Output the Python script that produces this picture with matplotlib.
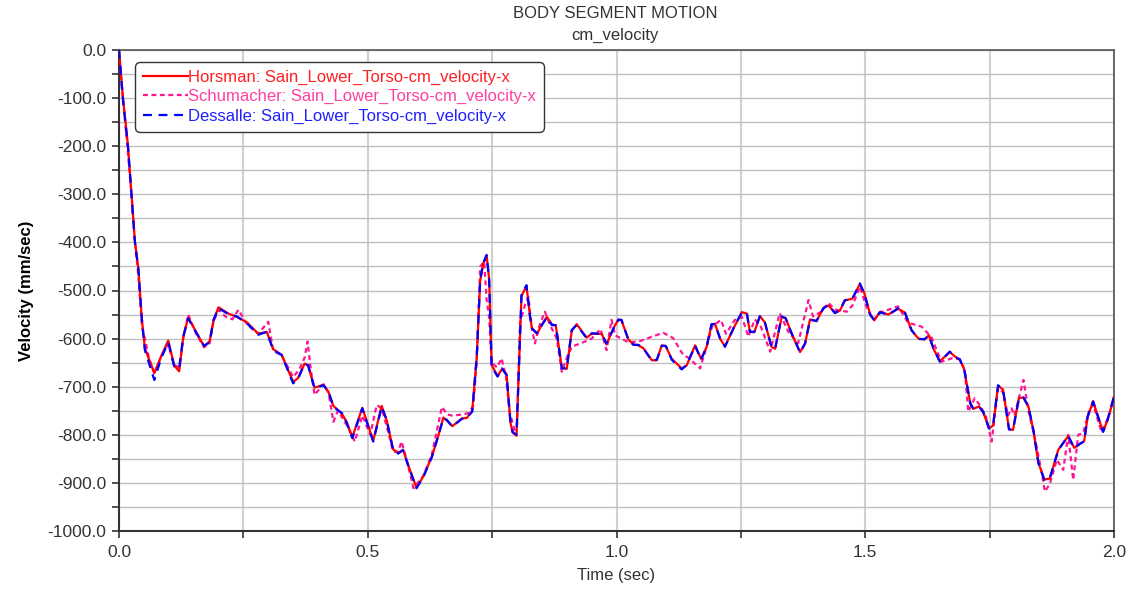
import matplotlib
matplotlib.use("Agg")
from matplotlib import pyplot as plt
from matplotlib.ticker import MultipleLocator, FuncFormatter

plt.rcParams['font.family'] = ['Liberation Sans', 'DejaVu Sans']

# time base shared by the Horsman / Dessalle traces (sec)
t_main = [0.0, 0.008, 0.018, 0.025, 0.032, 0.039, 0.046, 0.052, 0.071, 0.085,
          0.099, 0.111, 0.121, 0.129, 0.139, 0.156, 0.171, 0.182, 0.190, 0.200,
          0.220, 0.237, 0.257, 0.280, 0.297, 0.310, 0.327, 0.350, 0.360, 0.373,
          0.380, 0.393, 0.411, 0.421, 0.431, 0.448, 0.458, 0.469, 0.489, 0.511,
          0.528, 0.538, 0.551, 0.561, 0.571, 0.582, 0.598, 0.612, 0.629, 0.641,
          0.652, 0.659, 0.670, 0.689, 0.699, 0.710, 0.719, 0.726, 0.732, 0.739,
          0.744, 0.749, 0.761, 0.770, 0.779, 0.787, 0.791, 0.799, 0.809, 0.819,
          0.826, 0.830, 0.840, 0.850, 0.860, 0.870, 0.878, 0.890, 0.900, 0.910,
          0.920, 0.940, 0.950, 0.970, 0.980, 0.994, 1.004, 1.010, 1.024, 1.034,
          1.044, 1.054, 1.071, 1.081, 1.091, 1.099, 1.111, 1.131, 1.141, 1.158,
          1.170, 1.181, 1.191, 1.198, 1.208, 1.218, 1.238, 1.252, 1.262, 1.268,
          1.277, 1.288, 1.298, 1.312, 1.319, 1.332, 1.340, 1.352, 1.369, 1.379,
          1.389, 1.402, 1.416, 1.426, 1.439, 1.449, 1.459, 1.474, 1.489, 1.498,
          1.510, 1.518, 1.530, 1.546, 1.566, 1.580, 1.593, 1.607, 1.619, 1.628,
          1.637, 1.650, 1.670, 1.680, 1.690, 1.699, 1.704, 1.711, 1.717, 1.729,
          1.737, 1.749, 1.757, 1.767, 1.777, 1.789, 1.797, 1.809, 1.818, 1.828,
          1.838, 1.848, 1.860, 1.871, 1.888, 1.908, 1.920, 1.932, 1.940, 1.947,
          1.958, 1.968, 1.978, 1.987, 2.0]

dessalle = [0, -104, -200, -300, -400, -457, -561, -624, -686, -640,
            -608, -658, -662, -596, -558, -589, -615, -608, -561, -537,
            -549, -554, -568, -592, -586, -624, -634, -693, -683, -653,
            -655, -703, -697, -710, -742, -755, -776, -807, -745, -814,
            -742, -769, -832, -839, -832, -866, -911, -887, -846, -804,
            -766, -769, -783, -767, -764, -752, -638, -478, -443, -426,
            -478, -658, -679, -662, -676, -776, -794, -800, -509, -489,
            -554, -579, -589, -572, -556, -572, -572, -662, -662, -582,
            -572, -599, -589, -590, -610, -579, -561, -561, -603, -613,
            -613, -620, -646, -644, -615, -615, -644, -664, -655, -615,
            -644, -618, -570, -570, -599, -617, -572, -546, -547, -586,
            -586, -554, -565, -620, -620, -554, -558, -589, -629, -610,
            -561, -563, -537, -530, -547, -541, -520, -518, -485, -506,
            -551, -561, -545, -551, -537, -547, -582, -601, -601, -594,
            -620, -648, -627, -638, -643, -665, -693, -735, -745, -742,
            -752, -787, -780, -697, -707, -789, -789, -724, -722, -742,
            -790, -859, -894, -890, -832, -802, -828, -818, -814, -762,
            -731, -762, -794, -769, -720]

horsman = [0, -100, -198, -298, -398, -455, -560, -620, -672, -636,
           -604, -656, -668, -598, -556, -588, -616, -606, -562, -535,
           -548, -555, -566, -590, -586, -622, -634, -690, -682, -652,
           -656, -702, -696, -711, -740, -756, -774, -805, -744, -812,
           -740, -770, -830, -838, -831, -865, -910, -886, -845, -805,
           -764, -770, -782, -766, -765, -750, -640, -480, -445, -428,
           -476, -655, -678, -663, -674, -775, -795, -802, -512, -490,
           -552, -578, -590, -571, -555, -570, -573, -660, -663, -584,
           -570, -598, -590, -590, -612, -578, -560, -562, -602, -612,
           -614, -620, -645, -645, -614, -616, -642, -662, -656, -614,
           -642, -618, -571, -569, -600, -616, -573, -545, -548, -585,
           -587, -553, -566, -618, -621, -555, -557, -590, -628, -611,
           -560, -564, -536, -531, -546, -542, -521, -517, -487, -505,
           -550, -562, -544, -550, -538, -546, -583, -600, -602, -593,
           -621, -647, -628, -637, -644, -664, -694, -733, -746, -741,
           -753, -786, -781, -698, -706, -788, -790, -723, -723, -741,
           -791, -858, -893, -891, -831, -803, -827, -819, -813, -763,
           -730, -763, -793, -770, -722]

t_schumacher = [0.0, 0.006, 0.016, 0.025, 0.032, 0.039, 0.046, 0.052, 0.060, 0.071,
                0.086, 0.099, 0.111, 0.121, 0.129, 0.139, 0.156, 0.171, 0.182, 0.190,
                0.200, 0.215, 0.228, 0.240, 0.257, 0.280, 0.300, 0.310, 0.327, 0.350,
                0.362, 0.373, 0.379, 0.385, 0.393, 0.411, 0.421, 0.431, 0.440, 0.458,
                0.474, 0.489, 0.505, 0.518, 0.528, 0.540, 0.551, 0.561, 0.568, 0.580,
                0.592, 0.612, 0.629, 0.649, 0.660, 0.670, 0.689, 0.702, 0.712, 0.719,
                0.726, 0.734, 0.739, 0.744, 0.749, 0.760, 0.769, 0.778, 0.785, 0.795,
                0.800, 0.806, 0.816, 0.823, 0.830, 0.836, 0.846, 0.856, 0.868, 0.880,
                0.890, 0.900, 0.910, 0.937, 0.950, 0.968, 0.980, 0.990, 0.997, 1.010,
                1.024, 1.048, 1.071, 1.094, 1.114, 1.134, 1.145, 1.168, 1.185, 1.192,
                1.210, 1.220, 1.238, 1.252, 1.265, 1.278, 1.290, 1.309, 1.328, 1.345,
                1.365, 1.386, 1.395, 1.410, 1.426, 1.440, 1.463, 1.475, 1.489, 1.505,
                1.518, 1.532, 1.566, 1.586, 1.613, 1.633, 1.653, 1.674, 1.690, 1.700,
                1.707, 1.720, 1.730, 1.742, 1.754, 1.767, 1.777, 1.787, 1.794, 1.800,
                1.818, 1.828, 1.842, 1.855, 1.861, 1.871, 1.885, 1.898, 1.908, 1.918,
                1.928, 1.938, 1.950, 1.958, 1.975, 1.990, 2.0]

schumacher = [0, -80, -190, -300, -400, -470, -575, -600, -640, -672,
              -634, -612, -655, -660, -600, -550, -592, -618, -610, -565,
              -540, -555, -560, -540, -570, -590, -565, -625, -635, -680,
              -665, -640, -606, -660, -717, -695, -712, -773, -750, -780,
              -814, -760, -800, -738, -745, -790, -835, -835, -814, -860,
              -911, -885, -840, -742, -758, -760, -758, -755, -740, -650,
              -450, -440, -520, -555, -650, -660, -641, -680, -752, -790,
              -780, -568, -530, -513, -580, -610, -570, -544, -575, -600,
              -669, -640, -617, -606, -600, -580, -624, -561, -593, -600,
              -608, -605, -596, -588, -599, -634, -640, -662, -603, -575,
              -561, -590, -561, -555, -596, -560, -575, -627, -547, -585,
              -610, -520, -554, -545, -526, -540, -544, -530, -492, -542,
              -560, -545, -533, -567, -575, -597, -648, -641, -643, -665,
              -752, -724, -738, -760, -814, -703, -712, -760, -745, -760,
              -686, -750, -812, -880, -918, -902, -852, -873, -800, -894,
              -800, -796, -750, -737, -794, -760, -720]

labels = ['Horsman: Sain_Lower_Torso-cm_velocity-x',
          'Schumacher: Sain_Lower_Torso-cm_velocity-x',
          'Dessalle: Sain_Lower_Torso-cm_velocity-x']
colors = ['#ff0000', '#ff1493', '#0000ff']

fig = plt.figure(figsize=(11.29, 5.89), dpi=100)
ax = fig.add_axes([119 / 1129, 1 - 531 / 589, 995 / 1129, 481 / 589])

# pink underneath, then red, blue dashed on top
l_sch, = ax.plot(t_schumacher, schumacher, color=colors[1], lw=1.6,
                 linestyle=(0, (2.2, 1.6)), zorder=3)
l_hor, = ax.plot(t_main, horsman, color=colors[0], lw=1.6, zorder=4)
l_des, = ax.plot(t_main, dessalle, color=colors[2], lw=1.6,
                 linestyle=(0, (4, 3)), zorder=5)

ax.set_xlim(0, 2.0)
ax.set_ylim(-1000, 0)

ax.xaxis.set_major_locator(MultipleLocator(0.25))
ax.xaxis.set_major_formatter(FuncFormatter(
    lambda v, p: f"{v:.1f}" if abs(v / 0.5 - round(v / 0.5)) < 1e-6 else ""))
ax.yaxis.set_major_locator(MultipleLocator(50))
ax.yaxis.set_major_formatter(FuncFormatter(
    lambda v, p: f"{v:.1f}" if abs(v / 100 - round(v / 100)) < 1e-6 else ""))

ax.tick_params(axis='both', direction='out', length=5, width=1.2,
               color='#333333', labelsize=12.5, labelcolor='#333333')
ax.tick_params(axis='x', pad=5)
ax.tick_params(axis='y', pad=4)

ax.grid(True, axis='y', color='#c0c0c0', lw=1.0)
ax.grid(True, axis='x', color='#d0d0d0', lw=1.5)
ax.set_axisbelow(True)

for side in ['left', 'bottom']:
    ax.spines[side].set_color('#333333')
    ax.spines[side].set_linewidth(1.5)
for side in ['top', 'right']:
    ax.spines[side].set_color('#555555')
    ax.spines[side].set_linewidth(1.2)

ax.set_xlabel('Time (sec)', fontsize=12, color='#333333', labelpad=6)
ax.set_ylabel('Velocity (mm/sec)', fontsize=12, fontweight='bold', labelpad=10)

fig.text(615 / 1129, 1 - 14 / 589, 'BODY SEGMENT MOTION', ha='center',
         va='center', fontsize=12, color='#333333')
fig.text(615 / 1129, 1 - 35 / 589, 'cm_velocity', ha='center',
         va='center', fontsize=12, color='#333333')

leg = ax.legend([l_hor, l_sch, l_des], labels, loc='upper left',
                bbox_to_anchor=(19 / 995, 1 - 15 / 481), borderaxespad=0,
                fontsize=12, handlelength=2.7, handletextpad=0.0,
                labelspacing=0.25, borderpad=0.3, fancybox=True,
                framealpha=1, edgecolor='#333333')
leg.get_frame().set_linewidth(1.0)
leg.get_frame().set_boxstyle('round', pad=0.2, rounding_size=0.3)
for txt, c in zip(leg.get_texts(), ['#ff2020', '#ff40a0', '#2020ff']):
    txt.set_color(c)

fig.savefig('out.png', dpi=100)
